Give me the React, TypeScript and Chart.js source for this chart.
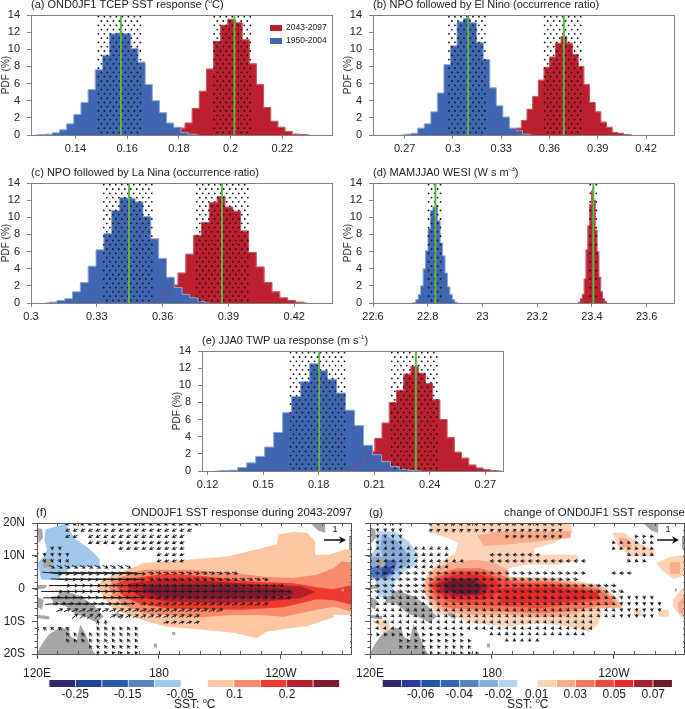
import React, { useEffect, useRef } from "react";
import { Chart, registerables } from "chart.js";

Chart.register(...registerables);

const FONT = '"Liberation Sans", Arial, sans-serif';
const RED = "#bc202e";
const BLUE = "#3e66b1";
const GREEN = "#5fb548";
const BOX = "#808080";

// ---- histogram data (PDF %)
const aBlue = [0.05, 0.1, 0.25, 0.6, 1.3, 2.4, 3.8, 5.3, 7.6, 9.3, 11.8, 11.9, 11.8, 10.1, 8.5, 5.9, 4, 2.6, 1.4, 0.9, 0.3, 0.1];
const aRed = [0.1, 0.4, 0.8, 1.4, 3.1, 5.1, 7.7, 10.9, 12.8, 13.5, 13.1, 11.1, 8.3, 5.9, 3.2, 1.6, 0.9, 0.4, 0.1, 0.05];
const bBlue = [0.1, 0.2, 0.8, 1.3, 2.7, 4.9, 8.2, 10.4, 13.2, 13.6, 13.1, 10.8, 8.8, 5.5, 3.4, 2.1, 0.8, 0.5, 0.1];
const bRed = [0.2, 0.8, 1.7, 3.0, 4.5, 6.4, 7.9, 9.1, 10.7, 11.5, 10.7, 9.4, 8.0, 5.9, 3.8, 2.7, 1.5, 0.9, 0.3, 0.2, 0.05];
const cBlue = [0.1, 0.3, 0.5, 1.3, 2.4, 4.3, 6.2, 8.1, 10.8, 12.3, 12.2, 11.8, 10.1, 7.5, 5.2, 3, 1.8, 1, 0.6, 0.2];
const cRed = [0.4, 1.1, 2.1, 3.5, 5.7, 7.9, 9.4, 11.7, 12.4, 11.2, 10.7, 8.4, 5.9, 4.2, 2.4, 1.3, 0.6, 0.3, 0.1];
const dBlue = [0.05, 0.4, 1, 2, 4, 6.1, 8.7, 10.8, 11.2, 11.4, 9.6, 7, 5.5, 3.5, 1.9, 1, 0.4, 0.1];
const dRed = [0.1, 0.5, 1, 2.8, 6.2, 9, 11.5, 13.1, 12, 8.5, 6, 3, 1.3, 0.5, 0.2];
const eBlue = [0.05, 0.1, 0.4, 0.95, 1.7, 2.8, 4.5, 6.8, 8.7, 10.4, 12.5, 11.7, 10.7, 9.1, 7.1, 5.3, 3, 1.9, 1.1, 0.5, 0.2, 0.05];
const eRed = [0.2, 0.7, 1.4, 2.3, 3.8, 5.6, 8, 9.4, 11.3, 12.2, 11.4, 10.2, 8.3, 6, 3.9, 2.2, 1.5, 0.7, 0.35, 0.15, 0.05];

const aTicks = [0.14, 0.16, 0.18, 0.2, 0.22];
const bTicks = [0.27, 0.3, 0.33, 0.36, 0.39, 0.42];
const cTicks = [0.3, 0.33, 0.36, 0.39, 0.42];
const dTicks = [22.6, 22.8, 23, 23.2, 23.4, 23.6];
const eTicks = [0.12, 0.15, 0.18, 0.21, 0.24, 0.27];
const pdfTicks = [0, 2, 4, 6, 8, 10, 12, 14];

const legendLabels = ["2043-2097", "1950-2004"];

const histPanels = [
  { left: 31, top: 15, xr: [0.12285, 0.2396], ticks: aTicks, blue: aBlue, red: aRed, bs: [0.12698, 0.00276], rs: [0.1755, 0.00276], means: [0.1576, 0.2015], st: [[0.1489, 0.1661], [0.1937, 0.2087]], title: [["(a) OND0JF1 TCEP SST response ("], ["o", 1], ["C)"]], legend: true },
  { left: 373, top: 15, xr: [0.2503, 0.438], ticks: bTicks, blue: bBlue, red: bRed, bs: [0.272, 0.00407], rs: [0.3372, 0.00353], means: [0.3094, 0.3689], st: [[0.2975, 0.3199], [0.357, 0.3808]], title: [["(b) NPO followed by El Nino (occurrence ratio)"]] },
  { left: 31, top: 183, xr: [0.3, 0.4377], ticks: cTicks, blue: cBlue, red: cRed, bs: [0.31, 0.00357], rs: [0.3581, 0.00357], means: [0.3447, 0.3871], st: [[0.3332, 0.3551], [0.3756, 0.3989]], title: [["(c) NPO followed by La Nina (occurrence ratio)"]] },
  { left: 373, top: 183, xr: [22.6, 23.7035], ticks: dTicks, blue: dBlue, red: dRed, bs: [22.752, 0.0089], rs: [23.355, 0.0067], means: [22.828, 23.405], st: [[22.803, 22.849], [23.394, 23.423]], title: [["(d) MAMJJA0 WESI (W s m"], ["-3", 1], [")"]] },
  { left: 202, top: 351, xr: [0.117, 0.2801], ticks: eTicks, blue: eBlue, red: eRed, bs: [0.129, 0.004855], rs: [0.1967, 0.0039], means: [0.1803, 0.2325], st: [[0.1648, 0.195], [0.2195, 0.2453]], title: [["(e) JJA0 TWP ua response (m s"], ["-1", 1], [")"]] },
];

// ---- map data: contour polygons as [lon, lat]
const land = [
  [[120.3, 18.5], [122.5, 18.2], [123, 15.5], [120.8, 13.9]],
  [[122.5, 8.8], [127.4, 9.3], [127.4, 6.7], [123.3, 6.2]],
  [[120, 1.1], [124.9, 1.1], [124.1, 0.1], [120, -0.2]],
  [[120, -2.5], [123.3, -3.5], [122.5, -6.5], [120, -5.5]],
  [[127, -2.5], [133, -2], [134, -4], [128, -4.5]],
  [[120, -8], [126, -8.5], [126, -9.5], [120, -9]],
  [[130.5, -1], [134, -0.8], [141.3, -2.4], [147.9, -5], [152.8, -8.6], [149, -10.3], [144, -8.8], [139, -7.8], [135, -5.8], [130.7, -4]],
  [[159.3, -7.1], [162.6, -8.6], [161.5, -9.5], [158, -8]],
  [[120, -20], [121, -18.5], [123, -16.4], [126, -14], [131.5, -11.8], [135.6, -12.5], [136.5, -14.5], [139.5, -16], [141.3, -11], [144, -14], [146.5, -18], [148.7, -20]],
  [[177.5, -16.8], [179, -16.8], [179, -18], [177.5, -18]],
  [[186.5, -13.3], [188, -13.3], [188, -14.2], [186.5, -14.2]],
  [[254.4, 20], [261.8, 20], [261.8, 17], [258.5, 17.6]],
  [[273.5, 16], [275, 16], [275, 12], [273.5, 12]],
  [[270, 0], [271, 0], [271, -0.9], [270, -0.9]],
];

const fBlue1 = [[124.1, 18], [133.9, 19.8], [138.9, 15.1], [146.2, 11.9], [150.8, 9], [150.8, 6.7], [136.4, 6.4], [129.8, 2.7], [122, 2.7], [120.3, 7.8], [123.3, 9.8], [124.9, 11.9], [123.6, 14.9]];
const fWarm1 = [[151.1, 2.1], [157.7, 4.2], [164.3, 5.7], [172.5, 7.8], [193.8, 8.8], [213.4, 9.8], [220, 10.8], [238, 13.4], [238.9, 16.5], [246.2, 17.3], [252.8, 17], [256.9, 14.4], [256.9, 10.3], [263.4, 10.3], [271.6, 11.9], [275, 11.9], [275, -8.1], [265.9, -8.1], [265.9, -8.8], [252.8, -11.5], [243, -12.2], [233.1, -13.2], [228.2, -15.2], [216.7, -13.5], [200.3, -12.5], [183.9, -11.7], [174.1, -10.1], [164.3, -8.1], [156.1, -5.5], [152.8, -2.5], [150.3, 0.1]];
const fWarm2 = [[157.7, 2.7], [164.3, 4.2], [172.5, 5.7], [193.8, 5.7], [216.7, 4.7], [233.1, 3.5], [246.2, 3.2], [257.7, 4.2], [265.9, 6.2], [270, 8.3], [275, 7.8], [275, -7.1], [265.9, -5.5], [257.7, -6.5], [241.3, -8.6], [229.8, -8.1], [216.7, -8.1], [200.3, -8.8], [183.9, -8.1], [172.5, -7.6], [164.3, -5.5], [157.7, -2.5], [155.2, 0.4]];
const fWarm3 = [[158.5, 1.4], [164.3, 3], [183.9, 4.5], [200.3, 3.9], [224.9, 2.1], [246.2, 1.6], [257.7, 0.4], [265.9, -0.2], [275, 1.1], [275, -5], [265.9, -3.5], [257.7, -3.3], [241.3, -5.7], [220, -6.5], [200.3, -6.3], [183.9, -6], [170.8, -4.7], [162.6, -2.5]];
const fWarm4 = [[165.9, 1.6], [183.9, 3], [208.5, 2.1], [233.1, 1.1], [249.5, 0.8], [256.9, -1.1], [249.5, -3], [233.1, -4], [208.5, -4.5], [183.9, -4], [170.8, -2.5], [165.1, -0.2]];
const fWarm5 = [[172.5, 0.8], [200.3, 1.1], [233.1, 0.1], [244.6, -0.4], [246.6, -1.7], [233.1, -2.8], [200.3, -3], [180.7, -2.5], [172.5, -0.9]];

const gBlue1 = [[123.5, 17.5], [132.5, 17.3], [139.1, 14.4], [144, 9.8], [142.4, 7], [136.6, 5.2], [132.5, 2.1], [130, -2.5], [124.3, -2.5], [122.6, 2.7], [120, 2.7], [120, 10.3], [122.6, 11.9]];
const gBlue2 = [[125.9, 16.5], [132.5, 14.9], [139.9, 9.8], [139.1, 7.5], [131.7, 4.7], [129.2, 2.7], [120, 3.2], [120, 9.8], [125.9, 9.8], [125.1, 12.9]];
const gBlue3 = [[126.7, 9], [133.3, 8.3], [131.7, 5.2], [127.6, 3.2], [120, 3.5], [120, 6.2], [125.1, 7.3]];
const gBlue4 = [[125.9, 6.2], [130.9, 6.7], [130, 4.7], [125.9, 3.7]];
const gPale1 = [[149.8, 20], [218.8, 20], [219.7, 17], [210.6, 13.9], [200.8, 12.1], [200.8, 10.3], [221.3, 10.3], [223, 8.8], [212.3, 7.3], [197.5, 7.3], [188.4, 6.2], [188.4, 3.5], [212.3, 3.2], [233.7, 1.1], [241.9, -3], [244.3, -6], [233.7, -6], [233.7, -8.1], [232, -11.1], [227.9, -13.2], [218.8, -11.7], [204, -10.6], [187.6, -11.5], [171.2, -10.6], [161.3, -8.6], [152.2, -7.6], [147.3, -2.5], [145.7, 1.1], [148.9, 5.2], [154.7, 8.3], [162.1, 10.8], [163.3, 13.9], [159.6, 15.1], [149.8, 17]];
const gPale2 = [[239.4, 17], [245.2, 17], [251.7, 13.9], [260, 11.9], [260, 9.8], [248.5, 9.8], [241.9, 12.9]];
const gPale3 = [[260.8, 7.8], [267.4, 9.6], [275, 10.3], [275, 4.2], [269.8, 2.9], [264.1, 5.2]];
const gPale4 = [[269, -3.5], [273.1, -0.4], [275, 0.1], [275, -9.6], [273.1, -8.6], [269, -5.5]];
const gPale5 = [[250, -6.5], [253.5, -6.5], [253.5, -8.4], [250, -8.4]];
const gPale6 = [[262, -6.5], [267, -6.5], [267, -8.6], [262, -8.6]];
const gPale7 = [[120.2, -9.8], [129.2, -9.8], [130, -13.7], [125.9, -13.7], [125.1, -11.7]];
const gOr1 = [[172.8, 16.2], [184.3, 17.5], [218.8, 17.5], [218.8, 15.4], [204, 14.4], [187.6, 13.4], [176.1, 12.9]];
const gOr2 = [[147.3, 2.7], [152.2, 6.2], [159.6, 8], [171.2, 8.8], [181, 8], [187.6, 5.7], [188.4, 3.5], [210.6, 2.9], [232.8, 0.8], [241, -3], [243.5, -5.7], [232.8, -6], [215.6, -8.4], [204, -8.8], [187.6, -8.1], [171.2, -8.1], [156.3, -7.1], [149.8, -4], [146.5, -0.4]];
const gOr3 = [[242, 15.5], [246, 15.5], [249.5, 12.5], [244.5, 12.5]];
const gOr4 = [[267.5, 8], [272.5, 8], [272.5, 4.5], [267.5, 4.5]];
const gOr5 = [[271.5, -4.5], [275, -2], [275, -8], [272, -7.5]];
const gRed1 = [[148.5, 1.6], [153.9, 4.7], [162.9, 6.2], [174.4, 6.2], [182.7, 4.7], [189.2, 2.7], [210.6, 2.1], [232, 0.1], [239.4, -3], [239.4, -5], [232, -5.3], [215.6, -7.1], [204, -7.6], [187.6, -7.1], [171.2, -6.5], [156.3, -5.7], [150.6, -3]];
const gRed2 = [[149.4, 1.4], [154.7, 3.7], [162.9, 5.4], [174.4, 5.2], [182.7, 3.2], [190.9, 1.8], [210.6, 1.4], [232, -0.6], [232.8, -3.5], [220.5, -4.7], [204, -6], [187.6, -5.5], [171.2, -5], [158, -4], [152.2, -1.9]];
const gRed3 = [[150.6, 0.8], [156.3, 3.2], [164.6, 4.5], [174.4, 4.2], [182.7, 2.1], [184, -0.9], [176.1, -3.5], [164.6, -3.5], [156.3, -2.5]];
const gRed3b = [[184.3, 0.1], [210.6, 0.4], [232, -1.2], [232, -3], [210.6, -4.5], [184.3, -4.5]];
const gDark1 = [[153.9, 1.6], [159.6, 3.2], [172.8, 3.2], [178.6, 0.6], [176.1, -1.9], [161.3, -2.5], [154.7, -0.9]];
const gDark2 = [[156.3, 1.4], [161.3, 2.7], [171.2, 2.7], [175.3, 0.6], [172.8, -1.6], [162.9, -1.7], [157.2, -0.4]];

// wind rows: [lat, lonStart, lonEnd, u, v]
const fWind = [
  [19.7, 135, 199, -0.25, -0.12], [17.8, 135, 195, -0.25, -0.12], [15.9, 135, 142, -0.25, -0.12], [15.9, 146, 192, -0.25, -0.12],
  [14, 146, 192, -0.25, -0.1], [12.2, 127, 132, 0.02, -0.2], [12.2, 161, 192, -0.25, -0.1], [10.3, 120, 136, 0.03, -0.2], [10.3, 179, 192, -0.25, -0.1],
  [8.4, 120, 136, 0.1, -0.2], [8.4, 179, 192, -0.25, -0.1], [6.6, 124, 166, 0.3, -0.15],
  [4.7, 124, 170, 1, -0.1], [4.7, 173, 218, 0.3, -0.1], [2.8, 131, 170, 0.9, -0.05], [2.8, 173, 233, 0.3, -0.1],
  [0.9, 131, 170, 1.1, 0], [0.9, 173, 241, 0.35, -0.05], [-0.9, 127, 170, 1.1, 0], [-0.9, 173, 245, 0.35, 0.03],
  [-2.8, 127, 170, 0.9, 0.03], [-2.8, 173, 245, 0.3, 0.08], [-4.7, 127, 166, 0.7, 0.05], [-4.7, 169, 236, 0.3, 0.12],
  [-6.6, 130, 213, 0.35, 0.15], [-8.4, 136, 150, 0.3, 0.25], [-8.4, 154, 202, 0.3, 0.15], [-10.3, 150, 155, -0.05, 0.25], [-10.3, 183, 202, 0.3, 0.1],
  [-12.2, 120, 135, -0.2, 0.15], [-12.2, 150, 172, -0.15, 0.2], [-14, 135, 172, -0.15, 0.2], [-15.9, 135, 172, -0.15, 0.2], [-17.8, 146, 172, -0.15, 0.2], [-19.7, 150, 170, -0.15, 0.2],
];
const gWind = [
  [19.7, 120, 135, 0.02, -0.2], [19.7, 150, 217, 0.22, 0.1], [17.8, 120, 135, 0.02, -0.2], [17.8, 150, 217, 0.22, 0.1],
  [15.9, 120, 135, 0.03, -0.2], [15.9, 184, 217, 0.22, 0.06], [15.9, 250, 262, 0.2, 0], [14, 120, 135, 0.05, -0.2], [14, 240, 262, 0.2, -0.05],
  [12.2, 120, 158, -0.18, -0.1], [12.2, 240, 262, 0.2, -0.05], [10.3, 120, 158, -0.2, -0.1], [10.3, 180, 206, -0.25, 0], [10.3, 244, 262, 0.2, -0.1],
  [8.4, 120, 165, -0.2, -0.05], [8.4, 180, 225, -0.25, 0], [8.4, 244, 255, 0.2, -0.1], [6.6, 120, 161, -0.2, -0.05], [4.7, 240, 248, -0.25, 0],
  [4.7, 120, 225, 0.25, -0.03], [2.8, 120, 222, 0.25, -0.05], [0.9, 120, 241, 0.27, -0.05], [-0.9, 120, 245, 0.27, -0.07],
  [-2.8, 120, 240, 0.22, -0.1], [-2.8, 243, 262, 0.03, -0.2], [-4.7, 120, 240, 0.2, -0.12], [-4.7, 243, 266, 0.03, -0.2],
  [-6.6, 120, 240, 0.17, -0.14], [-6.6, 243, 266, 0.03, -0.2], [-8.4, 120, 240, 0.15, -0.15], [-8.4, 243, 262, 0.03, -0.2],
  [-10.3, 120, 232, 0.12, -0.15], [-12.2, 120, 232, 0.12, -0.15], [-14, 120, 166, -0.12, 0.18], [-14, 180, 228, 0.15, -0.1],
  [-15.9, 135, 172, -0.12, 0.18], [-15.9, 184, 206, 0.15, -0.1], [-17.8, 135, 172, -0.12, 0.18], [-19.7, 146, 176, -0.12, 0.18],
];

const fBarColors = ["#2f2a6e", "#23409a", "#2c5aa8", "#5b82c6", "#a0c8ec", null, "#fdc6a3", "#f98a6c", "#ee3b2e", "#b3202a", "#7c1c2e"];
const gBarColors = ["#2f2a6e", "#2a3a9a", "#2450a5", "#3863b4", "#5b80c2", "#86abdc", "#b3d4f0", null, "#fdd3b8", "#fbab8c", "#f4775c", "#ee4c3a", "#e52a2a", "#a62231", "#6e1a2c"];
const fBarLabels = ["-0.25", "-0.15", "-0.05", "0.1", "0.2"];
const gBarLabels = ["-0.06", "-0.04", "-0.02", "0.01", "0.03", "0.05", "0.07"];
const lonTicks = [120, 180, 240];
const lonLabels = ["120E", "180", "120W"];
const latTicks = [-20, -10, 0, 10, 20];
const latLabels = ["20S", "10S", "0", "10N", "20N"];

const fLayers = [
  [fBlue1, "#a0c8ec"], [fWarm1, "#fdc6a3"], [fWarm2, "#f98a6c"], [fWarm3, "#ee3b2e"], [fWarm4, "#b3202a"], [fWarm5, "#7c1c2e"],
];
const gLayers = [
  [gBlue1, "#b3d4f0"], [gBlue2, "#86abdc"], [gBlue3, "#4f74bd"], [gBlue4, "#2a4fa5"],
  [gPale1, "#fdd3b8"], [gPale2, "#fdd3b8"], [gPale3, "#fdd3b8"], [gPale4, "#fdd3b8"], [gPale5, "#fdd3b8"], [gPale6, "#fdd3b8"], [gPale7, "#fdd3b8"],
  [gOr1, "#fbab8c"], [gOr2, "#fbab8c"], [gOr3, "#fbab8c"], [gOr4, "#fbab8c"], [gOr5, "#fbab8c"],
  [gRed1, "#f4775c"], [gRed2, "#ee4c3a"], [gRed3, "#e52a2a"], [gRed3b, "#e52a2a"], [gDark1, "#a62231"], [gDark2, "#6e1a2c"],
];

function drawSegments(ctx, segs, x, y, size) {
  ctx.fillStyle = "#222";
  ctx.textAlign = "left";
  ctx.textBaseline = "middle";
  let cx = x;
  for (const [t, sup] of segs) {
    const s = sup ? size * 0.62 : size;
    ctx.font = `${s}px ${FONT}`;
    ctx.fillText(t, cx, sup ? y - size * 0.33 : y);
    cx += ctx.measureText(t).width;
  }
}

function bars(start, width, values) {
  const pts = [{ x: start - width, y: 0 }];
  values.forEach((v, i) => pts.push({ x: start + width * i, y: v }));
  pts.push({ x: start + width * values.length, y: 0 });
  return pts;
}

function stipple(range, xr, plotW) {
  const dx = ((xr[1] - xr[0]) * 6) / plotW;
  const pts = [];
  let row = 0;
  for (let y = 13.8; y > 0; y -= 0.5) {
    for (let x = range[0] + (row % 2 ? dx / 2 : 0); x <= range[1]; x += dx) pts.push({ x, y });
    row++;
  }
  return pts;
}

function HistPanel({ p }) {
  const ref = useRef(null);
  const Y_W = 31, TOP = 16, PLOT_W = 302, PLOT_H = 120, RIGHT = 10, BOTTOM = 24;
  useEffect(() => {
    const step = (data, bg, line, order) => ({ type: "line", data, stepped: "middle", fill: bg ? "origin" : false, backgroundColor: bg || "transparent", borderColor: line, borderWidth: 1, pointRadius: 0, order });
    const dots = (r) => ({ type: "line", data: stipple(r, p.xr, PLOT_W), showLine: false, pointRadius: 0.9, pointBackgroundColor: "#111", pointBorderWidth: 0, order: 1 });
    const green = (x) => ({ type: "line", data: [{ x, y: 0 }, { x, y: 14 }], borderColor: GREEN, borderWidth: 2, pointRadius: 0, order: 0 });
    const chart = new Chart(ref.current, {
      type: "line",
      data: {
        datasets: [
          green(p.means[0]), green(p.means[1]),
          dots(p.st[0]), dots(p.st[1]),
          step(bars(p.rs[0], p.rs[1], p.red), null, "rgba(170,50,80,0.45)", 2),
          step(bars(p.bs[0], p.bs[1], p.blue), BLUE, "#8fa9d6", 3),
          step(bars(p.rs[0], p.rs[1], p.red), RED, "#d4747a", 4),
        ],
      },
      options: {
        animation: false, responsive: false, events: [],
        layout: { padding: { top: TOP, right: RIGHT, left: 0, bottom: 0 } },
        plugins: { legend: { display: false }, tooltip: { enabled: false }, title: { display: false } },
        scales: {
          x: {
            type: "linear", min: p.xr[0], max: p.xr[1],
            afterBuildTicks: (s) => { s.ticks = p.ticks.map((value) => ({ value })); },
            afterFit: (s) => { s.height = BOTTOM; },
            border: { display: false },
            grid: { drawOnChartArea: false, tickLength: 4, tickColor: BOX },
            ticks: { font: { family: FONT, size: 11 }, color: "#222", padding: 3, autoSkip: false, maxRotation: 0, callback: (v) => String(v) },
          },
          y: {
            type: "linear", min: 0, max: 14,
            afterBuildTicks: (s) => { s.ticks = pdfTicks.map((value) => ({ value })); },
            afterFit: (s) => { s.width = Y_W; },
            border: { display: false },
            grid: { drawOnChartArea: false, tickLength: 4, tickColor: BOX },
            title: { display: true, text: "PDF (%)", font: { family: FONT, size: 10 }, color: "#333", padding: 0 },
            ticks: { font: { family: FONT, size: 11 }, color: "#222", padding: 7, callback: (v) => String(v) },
          },
        },
      },
      plugins: [{
        id: "panelText",
        afterDraw(c) {
          const { ctx, chartArea: a } = c;
          ctx.save();
          ctx.strokeStyle = BOX;
          ctx.lineWidth = 1;
          ctx.strokeRect(a.left + 0.5, a.top + 0.5, a.right - a.left - 1, a.bottom - a.top);
          drawSegments(ctx, p.title, a.left, a.top - 10, 11);
          if (p.legend) {
            [RED, BLUE].forEach((col, i) => {
              const y = a.top + 10 + i * 13;
              ctx.fillStyle = col;
              ctx.fillRect(a.left + 239, y, 12, 6);
              ctx.fillStyle = "#222";
              ctx.font = `8.5px ${FONT}`;
              ctx.textBaseline = "middle";
              ctx.textAlign = "left";
              ctx.fillText(legendLabels[i], a.left + 255, y + 3);
            });
          }
          ctx.restore();
        },
      }],
    });
    return () => chart.destroy();
  }, []);
  const W = Y_W + PLOT_W + RIGHT, H = TOP + PLOT_H + BOTTOM;
  return <canvas ref={ref} width={W} height={H} style={{ position: "absolute", left: p.left - Y_W, top: p.top - TOP, width: W, height: H }} />;
}

function MapPanel({ cfg }) {
  const ref = useRef(null);
  useEffect(() => {
    const toXY = (poly) => { const pts = poly.map(([x, y]) => ({ x, y })); pts.push({ ...pts[0] }); return pts; };
    const poly = (pts, color, order) => ({ type: "scatter", data: toXY(pts), showLine: true, fill: "shape", backgroundColor: color, borderColor: color, borderWidth: 0, pointRadius: 0, order });
    const n = cfg.layers.length + land.length;
    const datasets = [];
    land.forEach((l) => datasets.push(poly(l, "#a6a6a6", 0)));
    cfg.layers.forEach(([pts, col], i) => datasets.push(poly(pts, col, n - i)));
    const chart = new Chart(ref.current, {
      type: "scatter",
      data: { datasets },
      options: {
        animation: false, responsive: false, events: [],
        layout: { padding: { top: cfg.top, right: cfg.right, left: 0, bottom: 0 } },
        plugins: { legend: { display: false }, tooltip: { enabled: false } },
        scales: {
          x: {
            type: "linear", min: 120, max: 275,
            afterBuildTicks: (s) => { s.ticks = lonTicks.map((value) => ({ value })); },
            afterFit: (s) => { s.height = cfg.bottom; },
            border: { display: false },
            grid: { drawOnChartArea: false, tickLength: 5, tickColor: "#555" },
            ticks: { font: { family: FONT, size: 12 }, color: "#222", padding: 7, autoSkip: false, maxRotation: 0, callback: (v) => lonLabels[lonTicks.indexOf(v)] },
          },
          y: {
            type: "linear", min: -20, max: 20,
            afterBuildTicks: (s) => { s.ticks = latTicks.map((value) => ({ value })); },
            afterFit: (s) => { s.width = cfg.yw; },
            border: { display: false },
            grid: { drawOnChartArea: false, tickLength: 5, tickColor: "#555" },
            ticks: { display: true, font: { family: FONT, size: 12 }, color: "#222", padding: 7, callback: (v) => (cfg.latLabels ? latLabels[latTicks.indexOf(v)] : "") },
          },
        },
      },
      plugins: [{
        id: "mapExtras",
        afterDraw(c) {
          const { ctx, chartArea: a, scales: { x, y } } = c;
          ctx.save();
          // winds
          const PX_PER_UNIT = 20;
          const arrow = (px, py, dx, dy, head, lw) => {
            const len = Math.hypot(dx, dy) || 1;
            const ux = dx / len, uy = dy / len;
            const ex = px + dx, ey = py + dy;
            ctx.lineWidth = lw;
            ctx.beginPath(); ctx.moveTo(px, py); ctx.lineTo(ex - ux * head * 0.7, ey - uy * head * 0.7); ctx.stroke();
            ctx.beginPath();
            ctx.moveTo(ex, ey);
            ctx.lineTo(ex - ux * head - uy * head * 0.55, ey - uy * head + ux * head * 0.55);
            ctx.lineTo(ex - ux * head * 0.7, ey - uy * head * 0.7);
            ctx.lineTo(ex - ux * head + uy * head * 0.55, ey - uy * head - ux * head * 0.55);
            ctx.closePath(); ctx.fill();
          };
          ctx.save();
          ctx.beginPath(); ctx.rect(a.left, a.top, a.right - a.left, a.bottom - a.top); ctx.clip();
          ctx.strokeStyle = "#1c1c1c"; ctx.fillStyle = "#1c1c1c";
          for (const [lat, l0, l1, u, v] of cfg.wind) {
            const k0 = Math.ceil((l0 - 120) / 3.75 - 0.01);
            for (let k = k0; 120 + k * 3.75 <= l1 + 0.01; k++) {
              const dx = u * PX_PER_UNIT, dy = -v * PX_PER_UNIT;
              arrow(x.getPixelForValue(120 + k * 3.75) - dx / 2, y.getPixelForValue(lat) - dy / 2, dx, dy, 4, 1);
            }
          }
          ctx.restore();
          // reference arrow
          ctx.strokeStyle = "#111"; ctx.fillStyle = "#111";
          arrow(a.right - cfg.refOff, a.top + 17, PX_PER_UNIT + 2, 0, 7, 1.5);
          ctx.font = `9px ${FONT}`; ctx.textAlign = "center"; ctx.textBaseline = "middle";
          ctx.fillText("1", a.right - cfg.refOff + 11, a.top + 7);
          // box and minor ticks
          ctx.strokeStyle = "#555"; ctx.lineWidth = 1;
          ctx.strokeRect(a.left + 0.5, a.top + 0.5, a.right - a.left - 1, a.bottom - a.top);
          ctx.beginPath();
          for (let lon = 130; lon < 275; lon += 10) {
            const px = Math.round(x.getPixelForValue(lon)) + 0.5;
            ctx.moveTo(px, a.top); ctx.lineTo(px, a.top + 3);
            ctx.moveTo(px, a.bottom); ctx.lineTo(px, a.bottom - 3);
          }
          for (let lat = -18; lat < 20; lat += 2) {
            const py = Math.round(y.getPixelForValue(lat)) + 0.5;
            ctx.moveTo(a.left, py); ctx.lineTo(a.left - 2.5, py);
            ctx.moveTo(a.right, py); ctx.lineTo(a.right - 2, py);
          }
          ctx.stroke();
          // titles
          ctx.fillStyle = "#222"; ctx.font = `11.5px ${FONT}`; ctx.textBaseline = "middle";
          ctx.textAlign = "left"; ctx.fillText(cfg.tag, a.left - 1, a.top - 10);
          ctx.textAlign = "right"; ctx.fillText(cfg.title, a.right, a.top - 10);
          // colour bar
          const cb = cfg.bar;
          const sw = (cb.x1 - cb.x0) / cb.colors.length;
          const by = a.bottom + 26;
          cb.colors.forEach((col, i) => {
            if (!col) return;
            ctx.fillStyle = col;
            ctx.fillRect(cb.x0 + i * sw + 0.4, by, sw - 0.8, 7);
          });
          ctx.fillStyle = "#222"; ctx.textAlign = "center"; ctx.font = `12px ${FONT}`;
          cb.labels.forEach((t, i) => ctx.fillText(t, cb.labelX[i], by + 15));
          drawSegments(ctx, [["SST: "], ["o", 1], ["C"]], cb.unitX, by + 25, 12);
          ctx.restore();
        },
      }],
    });
    return () => chart.destroy();
  }, []);
  return <canvas ref={ref} width={cfg.w} height={cfg.h} style={{ position: "absolute", left: cfg.left, top: cfg.tp, width: cfg.w, height: cfg.h }} />;
}

const fCfg = {
  left: 0, tp: 500, w: 355, h: 209, yw: 37, right: 3, top: 23, bottom: 55, latLabels: true,
  layers: fLayers, wind: fWind, tag: "(f)", title: "OND0JF1 SST response during 2043-2097", refOff: 28,
  bar: { x0: 49, x1: 339.5, colors: fBarColors, labels: fBarLabels, labelX: [75.3, 127.7, 180.3, 234.7, 287], unitX: 174 },
};
const gCfg = {
  left: 340, tp: 500, w: 345, h: 209, yw: 30, right: 0, top: 23, bottom: 55, latLabels: false,
  layers: gLayers, wind: gWind, tag: "(g)", title: "change of OND0JF1 SST response", refOff: 28,
  bar: { x0: 42.3, x1: 332.3, colors: gBarColors, labels: gBarLabels, labelX: [80.7, 119.3, 158.3, 196.7, 235.3, 274.3, 313.3], unitX: 167 },
};

export default function App() {
  useEffect(() => { document.body.style.margin = "0"; }, []);
  return (
    <div style={{ position: "absolute", left: 0, top: 0, width: 685, height: 709, overflow: "hidden", background: "#fff" }}>
      {histPanels.map((p, i) => <HistPanel key={i} p={p} />)}
      <MapPanel cfg={fCfg} />
      <MapPanel cfg={gCfg} />
    </div>
  );
}
